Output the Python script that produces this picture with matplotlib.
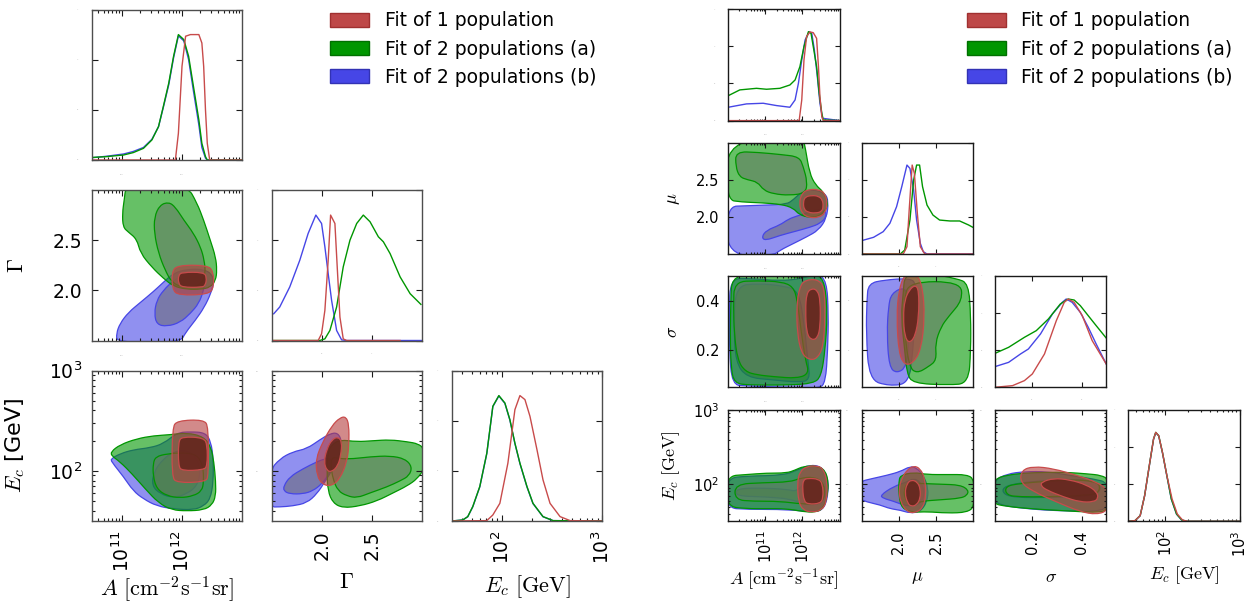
import numpy as np
import matplotlib.pyplot as plt
from matplotlib.patches import Patch, PathPatch
from matplotlib.path import Path
from matplotlib.colors import to_rgba
from matplotlib.ticker import FixedLocator, LogLocator, NullFormatter

W, H = 1255, 603

SERIES = ['two_b', 'two_a', 'one']          # drawing order
LABELS = {'one': 'Fit of 1 population',
          'two_a': 'Fit of 2 populations (a)',
          'two_b': 'Fit of 2 populations (b)'}
LINE = {'one': '#c84b4b', 'two_a': '#009600', 'two_b': '#4646e6'}
FILL95 = {'one': ('#b43c3c', 0.6), 'two_a': ('#009600', 0.6), 'two_b': ('#4646e6', 0.6)}
FILL68 = {'one': ('#64241c', 0.88), 'two_a': ('#647b64', 0.6), 'two_b': ('#6b6b7b', 0.6)}
PATCH = {'one': ('#be4848', '#a03030'), 'two_a': ('#009600', '#007000'),
         'two_b': ('#4646e6', '#3232b4')}

# =================== left corner: A, Gamma, E_c ===================
# A and E_c are stored as log10 values; pdfs are scaled to peak ~1

# -- marginal of A
L_A_x_one = [10.5, 11.89, 11.94, 12.0, 12.06, 12.14, 12.28, 12.33, 12.36, 12.39, 12.42, 12.46, 13.0]
L_A_y_one = [0, 0, 0.213, 0.747, 0.987, 1.0, 1.0, 0.933, 0.747, 0.4, 0.133, 0, 0]
L_A_x_two = [10.5, 10.75, 11.03, 11.19, 11.36, 11.5, 11.61, 11.69, 11.78, 11.86, 11.94,
             12.03, 12.11, 12.19, 12.28, 12.33, 12.39, 12.42, 13.0]
L_A_y_two_a = [0.02, 0.027, 0.04, 0.059, 0.093, 0.16, 0.267, 0.427, 0.613, 0.827, 1.0,
               0.96, 0.827, 0.587, 0.32, 0.133, 0.027, 0.0, 0.0]
L_A_y_two_b = [0.018, 0.03, 0.048, 0.068, 0.1, 0.165, 0.265, 0.42, 0.6, 0.815, 0.99,
               0.95, 0.80, 0.55, 0.28, 0.1, 0.015, 0.0, 0.0]

# -- marginal of Gamma
L_G_x_one = [1.5, 1.963, 1.997, 2.03, 2.063, 2.087, 2.13, 2.153, 2.18, 2.213, 2.247, 2.78]
L_G_y_one = [0, 0, 0.053, 0.24, 0.64, 1.0, 0.933, 0.587, 0.187, 0.013, 0, 0]
L_G_x_two_a = [1.5, 1.98, 2.03, 2.08, 2.147, 2.213, 2.28, 2.347, 2.413, 2.48, 2.563,
               2.613, 2.68, 2.78, 2.88, 2.987]
L_G_y_two_a = [0, 0, 0.013, 0.08, 0.267, 0.587, 0.8, 0.933, 1.0, 0.947, 0.827,
               0.787, 0.693, 0.507, 0.373, 0.288]
L_G_x_two_b = [1.52, 1.58, 1.68, 1.78, 1.863, 1.94, 1.997, 2.03, 2.063, 2.097, 2.147,
               2.197, 2.247, 3.0]
L_G_y_two_b = [0.213, 0.267, 0.427, 0.64, 0.853, 1.0, 0.933, 0.747, 0.533, 0.32, 0.08,
               0.005, 0, 0]

# -- marginal of E_c
L_E_x_one = [1.5, 1.85, 1.91, 1.98, 2.06, 2.13, 2.18, 2.23, 2.28, 2.35, 2.41, 2.48, 2.58, 2.68, 3.0]
L_E_y_one = [0, 0.003, 0.048, 0.141, 0.461, 0.888, 1.0, 0.968, 0.835, 0.568, 0.328, 0.141,
             0.035, 0.003, 0]
L_E_x_two = [1.5, 1.61, 1.66, 1.71, 1.78, 1.85, 1.91, 1.97, 2.03, 2.08, 2.13, 2.18, 2.25,
             2.31, 2.41, 2.51, 3.0]
L_E_y_two_a = [0, 0.008, 0.035, 0.115, 0.275, 0.541, 0.915, 1.0, 0.941, 0.808, 0.621,
               0.461, 0.275, 0.141, 0.035, 0.003, 0]
L_E_y_two_b = [0, 0.008, 0.034, 0.113, 0.272, 0.538, 0.912, 0.997, 0.938, 0.804, 0.617,
               0.458, 0.272, 0.139, 0.034, 0.003, 0]

# -- Gamma vs log10 A, 95% and 68% regions
L_GA_one_95 = [(11.92, 2.25), (12.42, 2.25), (12.52, 2.19), (12.53, 2.03), (12.44, 1.96),
               (11.94, 1.95), (11.84, 2.01), (11.83, 2.18)]
L_GA_one_68 = [(12.00, 2.18), (12.36, 2.18), (12.41, 2.13), (12.39, 2.05), (12.33, 2.03),
               (12.00, 2.03), (11.94, 2.07), (11.94, 2.15)]
L_GA_two_a_95 = [(11.07, 3.05), (12.08, 3.05), (12.25, 2.87), (12.36, 2.70), (12.47, 2.50),
                 (12.56, 2.33), (12.58, 2.20), (12.56, 2.10), (12.47, 2.03), (12.31, 2.01),
                 (12.08, 2.01), (11.86, 2.04), (11.69, 2.12), (11.50, 2.23), (11.31, 2.37),
                 (11.25, 2.51), (11.11, 2.58), (11.02, 2.63), (11.01, 2.77), (11.04, 2.90)]
L_GA_two_a_68 = [(11.78, 2.88), (11.89, 2.83), (12.03, 2.70), (12.19, 2.57), (12.31, 2.43),
                 (12.37, 2.30), (12.39, 2.17), (12.33, 2.07), (12.19, 2.03), (12.00, 2.03),
                 (11.83, 2.08), (11.72, 2.20), (11.61, 2.37), (11.54, 2.57), (11.54, 2.73),
                 (11.63, 2.85)]
L_GA_two_b_95 = [(10.91, 1.57), (10.97, 1.67), (11.11, 1.78), (11.31, 1.88), (11.53, 1.99),
                 (11.69, 2.08), (11.86, 2.17), (12.08, 2.21), (12.36, 2.21), (12.50, 2.16),
                 (12.53, 2.08), (12.48, 1.97), (12.37, 1.83), (12.22, 1.70), (12.06, 1.58),
                 (11.97, 1.48), (10.92, 1.48)]
L_GA_two_b_68 = [(11.54, 1.77), (11.58, 1.90), (11.69, 2.00), (11.86, 2.10), (12.08, 2.17),
                 (12.31, 2.18), (12.39, 2.12), (12.36, 2.00), (12.28, 1.87), (12.14, 1.77),
                 (11.97, 1.68), (11.75, 1.64), (11.58, 1.66)]

# -- log10 E_c vs log10 A
L_EA_one_95 = [(11.92, 2.50), (12.36, 2.51), (12.44, 2.44), (12.44, 1.95), (12.39, 1.89),
               (11.92, 1.88), (11.83, 1.94), (11.84, 2.43)]
L_EA_one_68 = [(12.00, 2.34), (12.36, 2.33), (12.42, 2.26), (12.42, 2.05), (12.36, 2.01),
               (12.00, 2.00), (11.94, 2.05), (11.94, 2.29)]
L_EA_two_a_95 = [(10.82, 2.19), (10.97, 2.26), (11.25, 2.32), (11.53, 2.35), (11.81, 2.36),
                 (12.08, 2.38), (12.36, 2.34), (12.48, 2.24), (12.53, 2.09), (12.56, 1.89),
                 (12.56, 1.75), (12.50, 1.66), (12.36, 1.61), (12.08, 1.60), (11.83, 1.61),
                 (11.61, 1.68), (11.39, 1.82), (11.17, 1.97), (10.97, 2.09), (10.83, 2.15)]
L_EA_two_a_68 = [(11.56, 2.14), (11.75, 2.17), (12.03, 2.18), (12.25, 2.16), (12.35, 2.05),
                 (12.36, 1.89), (12.33, 1.80), (12.19, 1.75), (11.97, 1.73), (11.75, 1.75),
                 (11.58, 1.82), (11.52, 1.95), (11.52, 2.07)]
L_EA_two_b_95 = [(10.82, 2.12), (10.97, 2.17), (11.19, 2.21), (11.47, 2.23), (11.69, 2.27),
                 (11.92, 2.38), (12.14, 2.39), (12.39, 2.38), (12.48, 2.29), (12.52, 2.12),
                 (12.52, 1.89), (12.47, 1.72), (12.36, 1.65), (12.19, 1.61), (11.86, 1.62),
                 (11.58, 1.65), (11.36, 1.72), (11.19, 1.80), (11.03, 1.94), (10.83, 2.09)]
L_EA_two_b_68 = [(11.69, 2.12), (11.86, 2.19), (12.08, 2.21), (12.25, 2.12), (12.31, 1.99),
                 (12.25, 1.85), (12.08, 1.77), (11.86, 1.73), (11.64, 1.77), (11.50, 1.85),
                 (11.53, 1.99)]

# -- log10 E_c vs Gamma
L_EG_one_95 = [(1.94, 2.12), (2.01, 2.29), (2.10, 2.45), (2.18, 2.53), (2.24, 2.54),
               (2.27, 2.46), (2.27, 2.26), (2.25, 2.09), (2.18, 1.92), (2.10, 1.85),
               (2.01, 1.86), (1.95, 1.95)]
L_EG_one_68 = [(2.02, 2.09), (2.05, 2.22), (2.10, 2.31), (2.16, 2.34), (2.20, 2.29),
               (2.19, 2.16), (2.16, 2.05), (2.10, 1.99), (2.05, 2.00)]
L_EG_two_a_95 = [(2.06, 2.19), (2.10, 2.26), (2.18, 2.31), (2.35, 2.29), (2.51, 2.30),
                 (2.68, 2.31), (2.85, 2.29), (2.96, 2.27), (3.02, 2.22), (3.02, 2.02),
                 (2.95, 1.92), (2.85, 1.85), (2.71, 1.78), (2.55, 1.70), (2.38, 1.65),
                 (2.21, 1.63), (2.11, 1.68), (2.06, 1.80), (2.05, 1.99)]
L_EG_two_a_68 = [(2.10, 2.14), (2.18, 2.12), (2.31, 2.12), (2.48, 2.14), (2.68, 2.15),
                 (2.83, 2.12), (2.90, 2.04), (2.87, 1.95), (2.78, 1.90), (2.65, 1.84),
                 (2.48, 1.78), (2.35, 1.73), (2.25, 1.75), (2.16, 1.80), (2.11, 1.92),
                 (2.09, 2.05)]
L_EG_two_b_95 = [(1.48, 2.00), (1.58, 2.12), (1.71, 2.19), (1.85, 2.22), (1.98, 2.31),
                 (2.08, 2.37), (2.16, 2.38), (2.20, 2.29), (2.18, 2.16), (2.11, 2.02),
                 (2.03, 1.89), (1.95, 1.77), (1.85, 1.68), (1.71, 1.65), (1.58, 1.64),
                 (1.48, 1.64)]
L_EG_two_b_68 = [(1.62, 1.85), (1.68, 1.94), (1.81, 2.02), (1.95, 2.09), (2.03, 2.12),
                 (2.10, 2.12), (2.11, 2.05), (2.06, 1.95), (2.00, 1.87), (1.91, 1.80),
                 (1.81, 1.77), (1.68, 1.77), (1.62, 1.80)]

# =================== right corner: A, mu, sigma, E_c ===================
R_A_x_one = [10.0, 11.91, 11.98, 12.04, 12.11, 12.20, 12.29, 12.38, 12.43, 12.47, 12.52, 12.56, 13.0]
R_A_y_one = [0, 0, 0.223, 0.654, 0.905, 0.956, 0.948, 0.887, 0.582, 0.259, 0.043, 0, 0]
R_A_x_two_a = [10.0, 10.31, 10.76, 11.03, 11.39, 11.66, 11.80, 11.93, 12.04, 12.16, 12.23,
               12.29, 12.38, 12.45, 12.52, 12.56, 13.0]
R_A_y_two_a = [0.269, 0.331, 0.348, 0.338, 0.348, 0.384, 0.438, 0.582, 0.798, 0.959, 0.941,
               0.798, 0.582, 0.295, 0.079, 0.007, 0]
R_A_x_two_b = [10.0, 10.49, 10.94, 11.30, 11.66, 11.80, 11.89, 11.98, 12.07, 12.18, 12.25,
               12.32, 12.40, 12.47, 12.54, 13.0]
R_A_y_two_b = [0.144, 0.180, 0.187, 0.162, 0.144, 0.223, 0.402, 0.654, 0.869, 0.959, 0.941,
               0.762, 0.474, 0.187, 0.025, 0]

R_M_x_one = [1.5, 2.06, 2.11, 2.14, 2.18, 2.21, 2.25, 2.29, 2.35, 3.0]
R_M_y_one = [0, 0, 0.079, 0.474, 0.959, 0.869, 0.438, 0.079, 0, 0]
R_M_x_two_a = [1.5, 2.02, 2.08, 2.15, 2.20, 2.24, 2.28, 2.32, 2.38, 2.46, 2.55, 2.69, 2.82,
               2.94, 3.0]
R_M_y_two_a = [0, 0, 0.043, 0.366, 0.798, 0.959, 0.959, 0.726, 0.528, 0.420, 0.366, 0.356,
               0.356, 0.313, 0.287]
R_M_x_two_b = [1.5, 1.66, 1.79, 1.88, 1.97, 2.04, 2.11, 2.15, 2.20, 2.24, 2.29, 2.33, 2.38, 3.0]
R_M_y_two_b = [0.144, 0.180, 0.241, 0.331, 0.510, 0.726, 0.959, 0.923, 0.690, 0.366, 0.115,
               0.025, 0, 0]

R_S_x_one = [0.05, 0.121, 0.169, 0.201, 0.250, 0.298, 0.330, 0.346, 0.370, 0.403, 0.443, 0.5]
R_S_y_one = [0.0, 0.018, 0.072, 0.144, 0.359, 0.719, 0.916, 0.952, 0.916, 0.772, 0.503, 0.25]
R_S_x_two_a = [0.05, 0.105, 0.169, 0.217, 0.266, 0.314, 0.346, 0.370, 0.395, 0.427, 0.459, 0.5]
R_S_y_two_a = [0.366, 0.431, 0.539, 0.611, 0.737, 0.898, 0.952, 0.941, 0.880, 0.772, 0.665, 0.53]
R_S_x_two_b = [0.05, 0.105, 0.153, 0.185, 0.234, 0.282, 0.322, 0.338, 0.362, 0.395, 0.427,
               0.459, 0.5]
R_S_y_two_b = [0.223, 0.269, 0.359, 0.413, 0.575, 0.790, 0.916, 0.952, 0.916, 0.808, 0.647,
               0.467, 0.25]

R_E_x_one = [1.5, 1.59, 1.66, 1.72, 1.79, 1.84, 1.87, 1.91, 1.96, 2.02, 2.09, 2.16, 2.23, 2.30, 3.0]
R_E_y_one = [0, 0.007, 0.061, 0.277, 0.636, 0.887, 0.959, 0.923, 0.744, 0.492, 0.241, 0.079,
             0.014, 0, 0]
R_E_x_two = [1.5, 1.59, 1.66, 1.72, 1.79, 1.84, 1.87, 1.91, 1.96, 2.02, 2.08, 2.15, 2.22, 2.29, 3.0]
R_E_y_two_a = [0, 0.007, 0.061, 0.277, 0.636, 0.887, 0.959, 0.923, 0.744, 0.492, 0.241, 0.079,
               0.014, 0, 0]
R_E_y_two_b = [0, 0.007, 0.06, 0.275, 0.632, 0.884, 0.955, 0.920, 0.740, 0.488, 0.238, 0.077,
               0.013, 0, 0]

# -- mu vs log10 A
R_MA_one_95 = [(11.98, 2.32), (12.16, 2.37), (12.43, 2.37), (12.61, 2.32), (12.67, 2.18),
               (12.61, 2.05), (12.43, 1.99), (12.16, 1.99), (11.98, 2.05), (11.91, 2.18)]
R_MA_one_68 = [(12.07, 2.27), (12.25, 2.29), (12.43, 2.28), (12.54, 2.23), (12.56, 2.14),
               (12.52, 2.07), (12.34, 2.05), (12.16, 2.06), (12.04, 2.10), (12.02, 2.20)]
R_MA_two_a_95 = [(9.95, 3.05), (12.02, 3.05), (12.08, 2.92), (12.19, 2.59), (12.35, 2.43),
                 (12.56, 2.34), (12.69, 2.20), (12.63, 2.09), (12.45, 2.01), (12.19, 1.99),
                 (11.91, 2.03), (11.75, 2.12), (11.43, 2.17), (10.89, 2.19), (10.36, 2.20),
                 (9.95, 2.23)]
R_MA_two_a_68 = [(10.20, 2.88), (10.79, 2.87), (11.43, 2.84), (11.91, 2.81), (12.02, 2.68),
                 (12.13, 2.47), (12.08, 2.32), (11.65, 2.29), (11.22, 2.31), (10.95, 2.36),
                 (10.79, 2.47), (10.52, 2.50), (10.30, 2.54), (10.20, 2.68)]
R_MA_two_b_95 = [(9.96, 2.14), (10.49, 2.15), (11.03, 2.16), (11.57, 2.17), (11.75, 2.23),
                 (11.98, 2.34), (12.29, 2.37), (12.61, 2.32), (12.70, 2.21), (12.65, 1.98),
                 (12.43, 1.82), (12.11, 1.73), (11.75, 1.64), (11.39, 1.55), (11.21, 1.48),
                 (9.96, 1.48)]
R_MA_two_b_68 = [(10.90, 1.73), (11.03, 1.82), (11.39, 1.89), (11.62, 1.97), (11.84, 2.01),
                 (12.16, 2.06), (12.38, 2.10), (12.61, 2.09), (12.65, 2.00), (12.47, 1.91),
                 (12.20, 1.86), (11.84, 1.81), (11.39, 1.75), (10.99, 1.68)]

# -- sigma vs log10 A
R_SA_one_95 = [(12.08, 0.484), (12.40, 0.487), (12.59, 0.457), (12.61, 0.336), (12.56, 0.214),
               (12.40, 0.167), (12.19, 0.160), (11.97, 0.187), (11.86, 0.268), (11.84, 0.376),
               (11.92, 0.457)]
R_SA_one_68 = [(12.24, 0.450), (12.40, 0.443), (12.48, 0.403), (12.48, 0.295), (12.40, 0.248),
               (12.24, 0.241), (12.11, 0.268), (12.08, 0.363), (12.11, 0.430)]
R_SA_two_a_95 = [(10.09, 0.49), (10.57, 0.51), (11.43, 0.51), (11.86, 0.49), (12.40, 0.51),
                 (12.61, 0.47), (12.67, 0.34), (12.61, 0.20), (12.50, 0.093), (12.29, 0.066),
                 (11.65, 0.059), (10.57, 0.059), (10.16, 0.066), (10.07, 0.133), (10.05, 0.268),
                 (10.07, 0.403)]
R_SA_two_a_68 = [(10.16, 0.477), (10.79, 0.481), (11.43, 0.477), (11.75, 0.457), (11.86, 0.403),
                 (11.97, 0.268), (12.08, 0.160), (12.18, 0.106), (11.86, 0.086), (11.22, 0.093),
                 (10.79, 0.100), (10.46, 0.113), (10.25, 0.160), (10.16, 0.268), (10.14, 0.376)]
R_SA_two_b_95 = [(10.05, 0.49), (10.6, 0.49), (11.4, 0.48), (12.0, 0.49), (12.4, 0.51),
                 (12.65, 0.48), (12.70, 0.35), (12.68, 0.20), (12.62, 0.07), (12.45, 0.045),
                 (11.6, 0.05), (10.5, 0.055), (10.1, 0.06), (10.03, 0.20), (10.03, 0.35)]
R_SA_two_b_68 = [(10.2, 0.46), (10.8, 0.47), (11.5, 0.46), (11.9, 0.44), (12.05, 0.30),
                 (12.15, 0.15), (12.2, 0.08), (11.9, 0.07), (11.2, 0.08), (10.5, 0.09),
                 (10.2, 0.15), (10.15, 0.30)]

# -- sigma vs mu
R_SM_one_95 = [(2.08, 0.51), (2.24, 0.51), (2.32, 0.457), (2.35, 0.336), (2.30, 0.201),
               (2.19, 0.147), (2.08, 0.140), (2.00, 0.187), (1.97, 0.336), (2.00, 0.443)]
R_SM_one_68 = [(2.14, 0.443), (2.22, 0.464), (2.27, 0.443), (2.27, 0.336), (2.22, 0.255),
               (2.14, 0.228), (2.08, 0.255), (2.06, 0.336), (2.08, 0.403)]
R_SM_two_a_95 = [(2.08, 0.51), (2.40, 0.51), (2.78, 0.49), (2.94, 0.470), (2.97, 0.336),
                 (2.97, 0.201), (2.94, 0.066), (2.67, 0.059), (2.19, 0.066), (2.11, 0.106),
                 (2.08, 0.201), (2.03, 0.336), (2.06, 0.43)]
R_SM_two_a_68 = [(2.14, 0.477), (2.83, 0.477), (2.86, 0.403), (2.67, 0.336), (2.57, 0.295),
                 (2.49, 0.228), (2.51, 0.160), (2.40, 0.133), (2.24, 0.106), (2.14, 0.133),
                 (2.08, 0.268), (2.07, 0.403)]
R_SM_two_b_95 = [(1.59, 0.47), (1.81, 0.484), (2.14, 0.491), (2.24, 0.47), (2.22, 0.336),
                 (2.19, 0.201), (2.14, 0.066), (1.87, 0.055), (1.60, 0.08), (1.56, 0.268),
                 (1.57, 0.403)]
R_SM_two_b_68 = [(1.90, 0.43), (2.08, 0.457), (2.14, 0.403), (2.14, 0.268), (2.11, 0.133),
                 (1.97, 0.106), (1.87, 0.133), (1.84, 0.268), (1.86, 0.376)]

# -- log10 E_c vs log10 A
R_EA_one_95 = [(11.93, 2.17), (12.11, 2.24), (12.38, 2.25), (12.56, 2.21), (12.67, 2.03),
               (12.65, 1.76), (12.52, 1.65), (12.25, 1.62), (12.02, 1.65), (11.89, 1.76),
               (11.86, 2.03)]
R_EA_one_68 = [(12.02, 2.06), (12.16, 2.08), (12.43, 2.07), (12.54, 2.01), (12.56, 1.81),
               (12.47, 1.74), (12.16, 1.73), (12.04, 1.77), (12.00, 1.94)]
R_EA_two_a_95 = [(9.95, 2.11), (10.49, 2.13), (11.03, 2.15), (11.57, 2.15), (11.80, 2.19),
                 (12.02, 2.24), (12.38, 2.25), (12.61, 2.19), (12.70, 2.03), (12.67, 1.85),
                 (12.56, 1.67), (12.34, 1.62), (12.02, 1.63), (11.57, 1.67), (11.03, 1.67),
                 (10.49, 1.67), (9.95, 1.70)]
R_EA_two_a_68 = [(10.18, 2.00), (10.94, 2.02), (11.66, 2.03), (11.93, 2.08), (12.29, 2.10),
                 (12.56, 2.03), (12.61, 1.85), (12.47, 1.74), (12.02, 1.73), (11.39, 1.77),
                 (10.67, 1.77), (10.18, 1.79)]
R_EA_two_b_95 = [(9.95, 2.08), (10.5, 2.11), (11.5, 2.12), (11.9, 2.20), (12.2, 2.26),
                 (12.5, 2.24), (12.68, 2.10), (12.70, 1.90), (12.60, 1.68), (12.35, 1.62),
                 (11.6, 1.66), (10.5, 1.66), (9.95, 1.68)]
R_EA_two_b_68 = [(10.2, 1.94), (10.9, 1.95), (11.6, 1.93), (11.85, 1.90), (12.1, 2.05),
                 (12.4, 2.08), (12.6, 1.98), (12.6, 1.80), (12.4, 1.72), (12.0, 1.73),
                 (11.7, 1.80), (11.0, 1.83), (10.2, 1.84)]

# -- log10 E_c vs mu
R_EM_one_95 = [(2.04, 2.08), (2.11, 2.19), (2.20, 2.25), (2.29, 2.21), (2.35, 2.08),
               (2.37, 1.85), (2.32, 1.67), (2.21, 1.61), (2.11, 1.63), (2.02, 1.76),
               (2.00, 1.94)]
R_EM_one_68 = [(2.11, 2.01), (2.17, 2.06), (2.25, 2.03), (2.29, 1.94), (2.29, 1.81),
               (2.24, 1.72), (2.17, 1.70), (2.12, 1.74), (2.08, 1.88)]
R_EM_two_a_95 = [(2.02, 2.12), (2.20, 2.16), (2.38, 2.13), (2.65, 2.13), (2.92, 2.13),
                 (3.02, 2.06), (3.02, 1.70), (2.92, 1.62), (2.65, 1.61), (2.38, 1.63),
                 (2.20, 1.62), (2.04, 1.67), (2.00, 1.85), (2.00, 2.03)]
R_EM_two_a_68 = [(2.11, 2.01), (2.29, 2.01), (2.56, 2.00), (2.83, 1.99), (2.94, 1.92),
                 (2.92, 1.85), (2.83, 1.81), (2.56, 1.79), (2.29, 1.77), (2.15, 1.72),
                 (2.08, 1.81), (2.07, 1.92)]
R_EM_two_b_95 = [(1.45, 2.03), (1.66, 2.08), (1.84, 2.12), (2.02, 2.17), (2.15, 2.24),
                 (2.24, 2.22), (2.33, 2.12), (2.40, 1.94), (2.38, 1.76), (2.29, 1.63),
                 (2.15, 1.61), (2.02, 1.65), (1.88, 1.67), (1.75, 1.72), (1.57, 1.76),
                 (1.45, 1.81)]
R_EM_two_b_68 = [(1.75, 1.85), (1.93, 1.97), (2.11, 2.03), (2.20, 2.08), (2.29, 2.03),
                 (2.35, 1.90), (2.31, 1.76), (2.20, 1.70), (2.06, 1.72), (1.93, 1.77),
                 (1.79, 1.81)]

# -- log10 E_c vs sigma
R_ES_one_95 = [(0.158, 2.19), (0.205, 2.24), (0.286, 2.21), (0.380, 2.12), (0.461, 2.03),
               (0.51, 1.92), (0.51, 1.65), (0.461, 1.59), (0.394, 1.63), (0.299, 1.76),
               (0.205, 1.90), (0.151, 2.03)]
R_ES_one_68 = [(0.239, 2.03), (0.286, 2.08), (0.353, 2.06), (0.421, 1.99), (0.461, 1.90),
               (0.468, 1.81), (0.448, 1.76), (0.394, 1.76), (0.326, 1.83), (0.259, 1.92),
               (0.235, 1.98)]
R_ES_two_a_95 = [(0.057, 2.08), (0.097, 2.12), (0.165, 2.15), (0.259, 2.16), (0.340, 2.16),
                 (0.421, 2.14), (0.481, 2.12), (0.51, 2.06), (0.51, 1.65), (0.461, 1.62),
                 (0.394, 1.63), (0.286, 1.65), (0.192, 1.67), (0.097, 1.70), (0.04, 1.74),
                 (0.04, 1.90), (0.045, 2.02)]
R_ES_two_a_68 = [(0.090, 1.97), (0.151, 2.01), (0.259, 2.04), (0.367, 2.06), (0.448, 2.04),
                 (0.475, 1.99), (0.468, 1.88), (0.421, 1.85), (0.259, 1.83), (0.151, 1.83),
                 (0.097, 1.85)]
R_ES_two_b_95 = [(0.045, 2.05), (0.10, 2.14), (0.17, 2.17), (0.26, 2.17), (0.35, 2.12),
                 (0.45, 2.07), (0.51, 2.02), (0.51, 1.68), (0.45, 1.63), (0.35, 1.64),
                 (0.25, 1.65), (0.15, 1.68), (0.07, 1.72), (0.04, 1.80)]
R_ES_two_b_68 = [(0.08, 1.96), (0.15, 2.02), (0.26, 2.05), (0.37, 2.07), (0.46, 2.03),
                 (0.48, 1.95), (0.46, 1.86), (0.38, 1.83), (0.25, 1.82), (0.14, 1.82),
                 (0.085, 1.86)]

# axis definitions: (low, high, major ticks, log scale)
AX_A_L = (10 ** 10.5, 1e13, [1e11, 1e12], True)
AX_A_R = (1e10, 1e13, [1e11, 1e12], True)
AX_G = (1.5, 3.0, [2.0, 2.5], False)
AX_S = (0.05, 0.5, [0.2, 0.4], False)
AX_E = (10 ** 1.5, 1e3, [1e2, 1e3], True)
AX_PDF = (0, 1.2, [0, 0.4, 0.8, 1.2], False)


def set_axis(ax, which, spec, show, fs, pad):
    lo, hi, ticks, log = spec
    axis = ax.xaxis if which == 'x' else ax.yaxis
    if log:
        (ax.set_xscale if which == 'x' else ax.set_yscale)('log')
        axis.set_minor_locator(LogLocator(10, subs=np.arange(2, 10)))
        axis.set_minor_formatter(NullFormatter())
    (ax.set_xlim if which == 'x' else ax.set_ylim)(lo, hi)
    axis.set_major_locator(FixedLocator(ticks))
    if show:
        ax.tick_params(axis=which, labelsize=fs, labelcolor='black', pad=pad)
    else:
        # labels shrunk to specks
        ax.tick_params(axis=which, labelsize=1, labelcolor='0.7', pad=pad + 2)


def style(ax, big):
    ax.tick_params(which='both', direction='in', top=True, right=True, width=0.8,
                   color='0.1')
    ax.tick_params(which='major', length=4.3 if big else 3.6)
    ax.tick_params(which='minor', length=2.0 if big else 1.7)
    for s in ax.spines.values():
        s.set_color('0.3' if big else '0.1')
        s.set_linewidth(1.0)


def conv(v, log):
    v = np.asarray(v, float)
    return 10.0 ** v if log else v


def region_path(pts, xlog, ylog):
    # closed outline through the midpoints, vertices used as quadratic control points
    p = np.asarray(pts, float)
    mids = 0.5 * (p + np.roll(p, -1, axis=0))
    verts = [mids[-1]]
    codes = [Path.MOVETO]
    for k in range(len(p)):
        verts += [p[k], mids[k]]
        codes += [Path.CURVE3, Path.CURVE3]
    verts = np.array(verts)
    verts[:, 0] = conv(verts[:, 0], xlog)
    verts[:, 1] = conv(verts[:, 1], ylog)
    return Path(verts, codes)


def draw_pdf(ax, curves, xlog):
    for key in SERIES:
        x, y = curves[key]
        ax.plot(conv(x, xlog), y, color=LINE[key], lw=1.0)


def draw_2d(ax, regions, xlog, ylog):
    for key in SERIES:
        for pts, (fc, al) in ((regions[key][0], FILL95[key]), (regions[key][1], FILL68[key])):
            ax.add_patch(PathPatch(region_path(pts, xlog, ylog), facecolor=to_rgba(fc, al),
                                   edgecolor=LINE[key], lw=0.9))


def corner(fig, cols, rows, size, specs, pdfs, pairs, xlabels, xlab_y, ylabels,
           fs, lfs, pad, ylab_x):
    n = len(specs)
    big = fs > 12
    for i in range(n):
        for j in range(i + 1):
            ax = fig.add_axes([cols[j] / W, 1 - (rows[i] + size) / H, size / W, size / H])
            style(ax, big)
            xs = specs[j]
            if i == j:
                draw_pdf(ax, pdfs[j], xs[3])
                set_axis(ax, 'y', AX_PDF, False, fs, pad)
            else:
                draw_2d(ax, pairs[(i, j)], xs[3], specs[i][3])
                set_axis(ax, 'y', specs[i], j == 0, fs, pad)
                if j == 0:
                    lab, mf = ylabels[i]
                    ax.set_ylabel(lab, fontsize=lfs, math_fontfamily=mf)
                    ax.yaxis.set_label_coords(ylab_x, 0.5)
            set_axis(ax, 'x', xs, i == n - 1, fs, pad)
            if i == n - 1:
                ax.tick_params(axis='x', labelrotation=90)
                ax.set_xlabel(xlabels[j], fontsize=lfs, math_fontfamily='cm')
                ax.xaxis.set_label_coords(0.5, xlab_y[j])


fig = plt.figure(figsize=(W / 100, H / 100), dpi=100)

# ---- left corner
left_pdfs = [
    {'one': (L_A_x_one, L_A_y_one), 'two_a': (L_A_x_two, L_A_y_two_a),
     'two_b': (L_A_x_two, L_A_y_two_b)},
    {'one': (L_G_x_one, L_G_y_one), 'two_a': (L_G_x_two_a, L_G_y_two_a),
     'two_b': (L_G_x_two_b, L_G_y_two_b)},
    {'one': (L_E_x_one, L_E_y_one), 'two_a': (L_E_x_two, L_E_y_two_a),
     'two_b': (L_E_x_two, L_E_y_two_b)},
]
left_pairs = {
    (1, 0): {'one': (L_GA_one_95, L_GA_one_68), 'two_a': (L_GA_two_a_95, L_GA_two_a_68),
             'two_b': (L_GA_two_b_95, L_GA_two_b_68)},
    (2, 0): {'one': (L_EA_one_95, L_EA_one_68), 'two_a': (L_EA_two_a_95, L_EA_two_a_68),
             'two_b': (L_EA_two_b_95, L_EA_two_b_68)},
    (2, 1): {'one': (L_EG_one_95, L_EG_one_68), 'two_a': (L_EG_two_a_95, L_EG_two_a_68),
             'two_b': (L_EG_two_b_95, L_EG_two_b_68)},
}
corner(fig, [91.7, 271.7, 451.7], [9.5, 190.0, 370.5], 150.5,
       [AX_A_L, AX_G, AX_E], left_pdfs, left_pairs,
       [r'$A\ [\mathrm{cm^{-2}s^{-1}sr}]$', r'$\Gamma$', r'$E_c\ [\mathrm{GeV}]$'],
       [-0.355, -0.34, -0.345],
       [None, (r'$\Gamma$', 'cm'), (r'$E_c$ [GeV]', 'cm')],
       fs=13.5, lfs=16, pad=7, ylab_x=-0.43)

# ---- right corner
right_pdfs = [
    {'one': (R_A_x_one, R_A_y_one), 'two_a': (R_A_x_two_a, R_A_y_two_a),
     'two_b': (R_A_x_two_b, R_A_y_two_b)},
    {'one': (R_M_x_one, R_M_y_one), 'two_a': (R_M_x_two_a, R_M_y_two_a),
     'two_b': (R_M_x_two_b, R_M_y_two_b)},
    {'one': (R_S_x_one, R_S_y_one), 'two_a': (R_S_x_two_a, R_S_y_two_a),
     'two_b': (R_S_x_two_b, R_S_y_two_b)},
    {'one': (R_E_x_one, R_E_y_one), 'two_a': (R_E_x_two, R_E_y_two_a),
     'two_b': (R_E_x_two, R_E_y_two_b)},
]
right_pairs = {
    (1, 0): {'one': (R_MA_one_95, R_MA_one_68), 'two_a': (R_MA_two_a_95, R_MA_two_a_68),
             'two_b': (R_MA_two_b_95, R_MA_two_b_68)},
    (2, 0): {'one': (R_SA_one_95, R_SA_one_68), 'two_a': (R_SA_two_a_95, R_SA_two_a_68),
             'two_b': (R_SA_two_b_95, R_SA_two_b_68)},
    (2, 1): {'one': (R_SM_one_95, R_SM_one_68), 'two_a': (R_SM_two_a_95, R_SM_two_a_68),
             'two_b': (R_SM_two_b_95, R_SM_two_b_68)},
    (3, 0): {'one': (R_EA_one_95, R_EA_one_68), 'two_a': (R_EA_two_a_95, R_EA_two_a_68),
             'two_b': (R_EA_two_b_95, R_EA_two_b_68)},
    (3, 1): {'one': (R_EM_one_95, R_EM_one_68), 'two_a': (R_EM_two_a_95, R_EM_two_a_68),
             'two_b': (R_EM_two_b_95, R_EM_two_b_68)},
    (3, 2): {'one': (R_ES_one_95, R_ES_one_68), 'two_a': (R_ES_two_a_95, R_ES_two_a_68),
             'two_b': (R_ES_two_b_95, R_ES_two_b_68)},
}
corner(fig, [728.3, 861.7, 995.0, 1128.3], [9.3, 142.7, 276.0, 410.0], 111.3,
       [AX_A_R, AX_G, AX_S, AX_E], right_pdfs, right_pairs,
       [r'$A\ [\mathrm{cm^{-2}s^{-1}sr}]$', r'$\mu$', r'$\sigma$', r'$E_c\ [\mathrm{GeV}]$'],
       [-0.41, -0.42, -0.42, -0.39],
       [None, (r'$\mu$', 'cm'), (r'$\sigma$', 'cm'), (r'$E_c\ [\mathrm{GeV}]$', 'cm')],
       fs=10.5, lfs=13, pad=6.5, ylab_x=-0.42)

# ---- legends
handles = [Patch(facecolor=PATCH[k][0], edgecolor=PATCH[k][1], label=LABELS[k])
           for k in ('one', 'two_a', 'two_b')]
for x0 in (330, 966.5):
    fig.legend(handles=handles, loc='upper left', bbox_to_anchor=(x0 / W, 1 - 11.5 / H),
               frameon=False, fontsize=13.5, borderpad=0, borderaxespad=0,
               handlelength=2.08, handleheight=0.75, handletextpad=0.85,
               labelspacing=0.49)

fig.savefig('out.png', dpi=100)
